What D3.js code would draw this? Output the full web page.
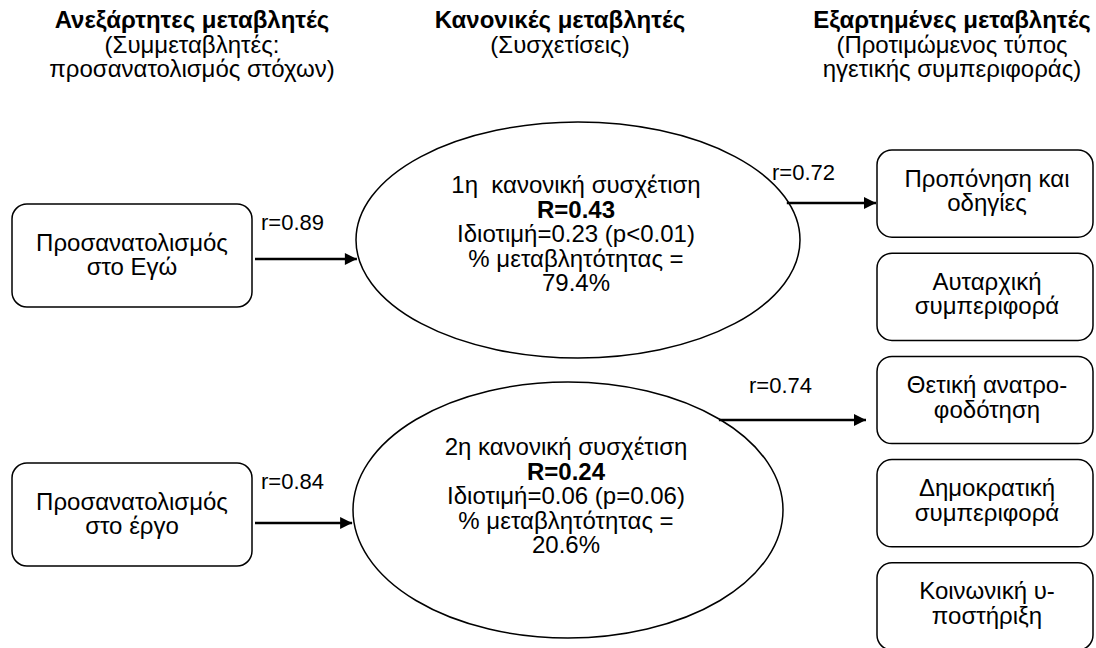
<!DOCTYPE html>
<html>
<head>
<meta charset="utf-8">
<script src="https://cdn.jsdelivr.net/npm/d3@7"></script>
<style>
  body { margin: 0; background: #fff; }
  svg { font-family: "Liberation Sans", Arial, sans-serif; }
  text { white-space: pre; }
</style>
</head>
<body>
<div id="diagram"></div>
<script>
// column headers
const headerTitles = ["Ανεξάρτητες μεταβλητές", "Κανονικές μεταβλητές", "Εξαρτημένες μεταβλητές"];
const headerNotes = [
  ["(Συμμεταβλητές:", "προσανατολισμός στόχων)"],
  ["(Συσχετίσεις)"],
  ["(Προτιμώμενος τύπος", "ηγετικής συμπεριφοράς)"]
];

// independent variables and their loadings
const predictors = [["Προσανατολισμός", "στο Εγώ"], ["Προσανατολισμός", "στο έργο"]];
const predictorR = [0.89, 0.84];

// canonical functions
const canonOrder = ["1η  ", "2η "];
const canonR = [0.43, 0.24];
const eigenvalues = [0.23, 0.06];
const pValues = ["p<0.01", "p=0.06"];
const variancePct = [79.4, 20.6];

// dependent variables, which one each canonical function points at, loadings
const criteria = [
  ["Προπόνηση και", "οδηγίες"],
  ["Αυταρχική", "συμπεριφορά"],
  ["Θετική ανατρο-", "φοδότηση"],
  ["Δημοκρατική", "συμπεριφορά"],
  ["Κοινωνική υ-", "ποστήριξη"]
];
const criterionTarget = [0, 2];
const criterionR = [0.72, 0.74];

const width = 1096, height = 648, fs = 24, lh = 24.5, rfs = 22;

const svg = d3.select("#diagram").append("svg")
  .attr("width", width).attr("height", height);

svg.append("defs").append("marker")
  .attr("id", "head")
  .attr("viewBox", "0 0 10 10")
  .attr("refX", 10).attr("refY", 5)
  .attr("markerUnits", "userSpaceOnUse")
  .attr("markerWidth", 16).attr("markerHeight", 12)
  .attr("orient", "auto")
  .append("path").attr("d", "M0,0L10,5L0,10Z").attr("fill", "#000");

const colX = d3.scalePoint().domain(d3.range(3)).range([192, 952]);
const colNudge = [0, -12, 0];

function lines(g, arr, x, y0, bold) {
  g.selectAll(null).data(arr).join("text")
    .attr("x", x)
    .attr("y", (d, i) => y0 + i * lh)
    .attr("text-anchor", "middle")
    .attr("font-size", fs)
    .attr("font-weight", (d, i) => bold && bold(i) ? "bold" : "normal")
    .text(d => d);
}

// headers
headerTitles.forEach((t, i) => {
  const g = svg.append("g");
  lines(g, [t].concat(headerNotes[i]), colX(i) + colNudge[i], 28, j => j === 0);
});

// left boxes
const leftY = d3.scalePoint().domain(d3.range(predictors.length)).range([204, 463]);
const leftW = 240, leftH = 103;
predictors.forEach((p, i) => {
  const g = svg.append("g");
  g.append("rect")
    .attr("x", 12).attr("y", leftY(i))
    .attr("width", leftW).attr("height", leftH)
    .attr("rx", 15).attr("fill", "#fff")
    .attr("stroke", "#000").attr("stroke-width", 1.5);
  lines(g, p, 12 + leftW / 2, leftY(i) + leftH / 2 - 5, null);
});

// ellipses
const ellipses = [
  { cx: 578, cy: 240, rx: 222, ry: 118, textTop: -47 },
  { cx: 568, cy: 510, rx: 215, ry: 128, textTop: -55 }
];
const fmt = d3.format(".2f");
ellipses.forEach((e, i) => {
  const g = svg.append("g");
  g.append("ellipse")
    .attr("cx", e.cx).attr("cy", e.cy).attr("rx", e.rx).attr("ry", e.ry)
    .attr("fill", "#fff").attr("stroke", "#000").attr("stroke-width", 1.5);
  const txt = [
    canonOrder[i] + "κανονική συσχέτιση",
    "R=" + fmt(canonR[i]),
    "Ιδιοτιμή=" + fmt(eigenvalues[i]) + " (" + pValues[i] + ")",
    "% μεταβλητότητας =",
    variancePct[i].toFixed(1) + "%"
  ];
  lines(g, txt, e.cx - 2, e.cy + e.textTop, j => j === 1);
});

function edgeX(e, y, side) {
  const t = (y - e.cy) / e.ry;
  return e.cx + side * e.rx * Math.sqrt(Math.max(0, 1 - t * t));
}

// predictor -> canonical arrows
const inArrowY = [259, 523];
predictors.forEach((p, i) => {
  const y = inArrowY[i];
  svg.append("line")
    .attr("x1", 12 + leftW + 3).attr("y1", y)
    .attr("x2", edgeX(ellipses[i], y, -1) - 2).attr("y2", y)
    .attr("stroke", "#000").attr("stroke-width", 2.5)
    .attr("marker-end", "url(#head)");
  svg.append("text")
    .attr("x", 261).attr("y", leftY(i) + 26)
    .attr("font-size", rfs)
    .text("r=" + fmt(predictorR[i]));
});

// right boxes
const rightY = d3.scaleBand().domain(d3.range(criteria.length))
  .range([150, 650]).paddingInner(0.155).paddingOuter(0);
const rightX = 877, rightW = 216;
criteria.forEach((c, i) => {
  const g = svg.append("g");
  g.append("rect")
    .attr("x", rightX).attr("y", rightY(i))
    .attr("width", rightW).attr("height", rightY.bandwidth())
    .attr("rx", 15).attr("fill", "#fff")
    .attr("stroke", "#000").attr("stroke-width", 1.5);
  lines(g, c, rightX + rightW / 2 + 2, rightY(i) + rightY.bandwidth() / 2 - 7, null);
});

// canonical -> criterion arrows
const outArrowY = [203, 420];
const outTipX = [876, 866];
const outLabel = [[772, 180], [749, 393]];
criterionTarget.forEach((t, i) => {
  const y = outArrowY[i];
  svg.append("line")
    .attr("x1", edgeX(ellipses[i], y, 1) - 2).attr("y1", y)
    .attr("x2", outTipX[i]).attr("y2", y)
    .attr("stroke", "#000").attr("stroke-width", 2.5)
    .attr("marker-end", "url(#head)");
  svg.append("text")
    .attr("x", outLabel[i][0]).attr("y", outLabel[i][1])
    .attr("font-size", rfs)
    .text("r=" + fmt(criterionR[i]));
});
</script>
</body>
</html>
